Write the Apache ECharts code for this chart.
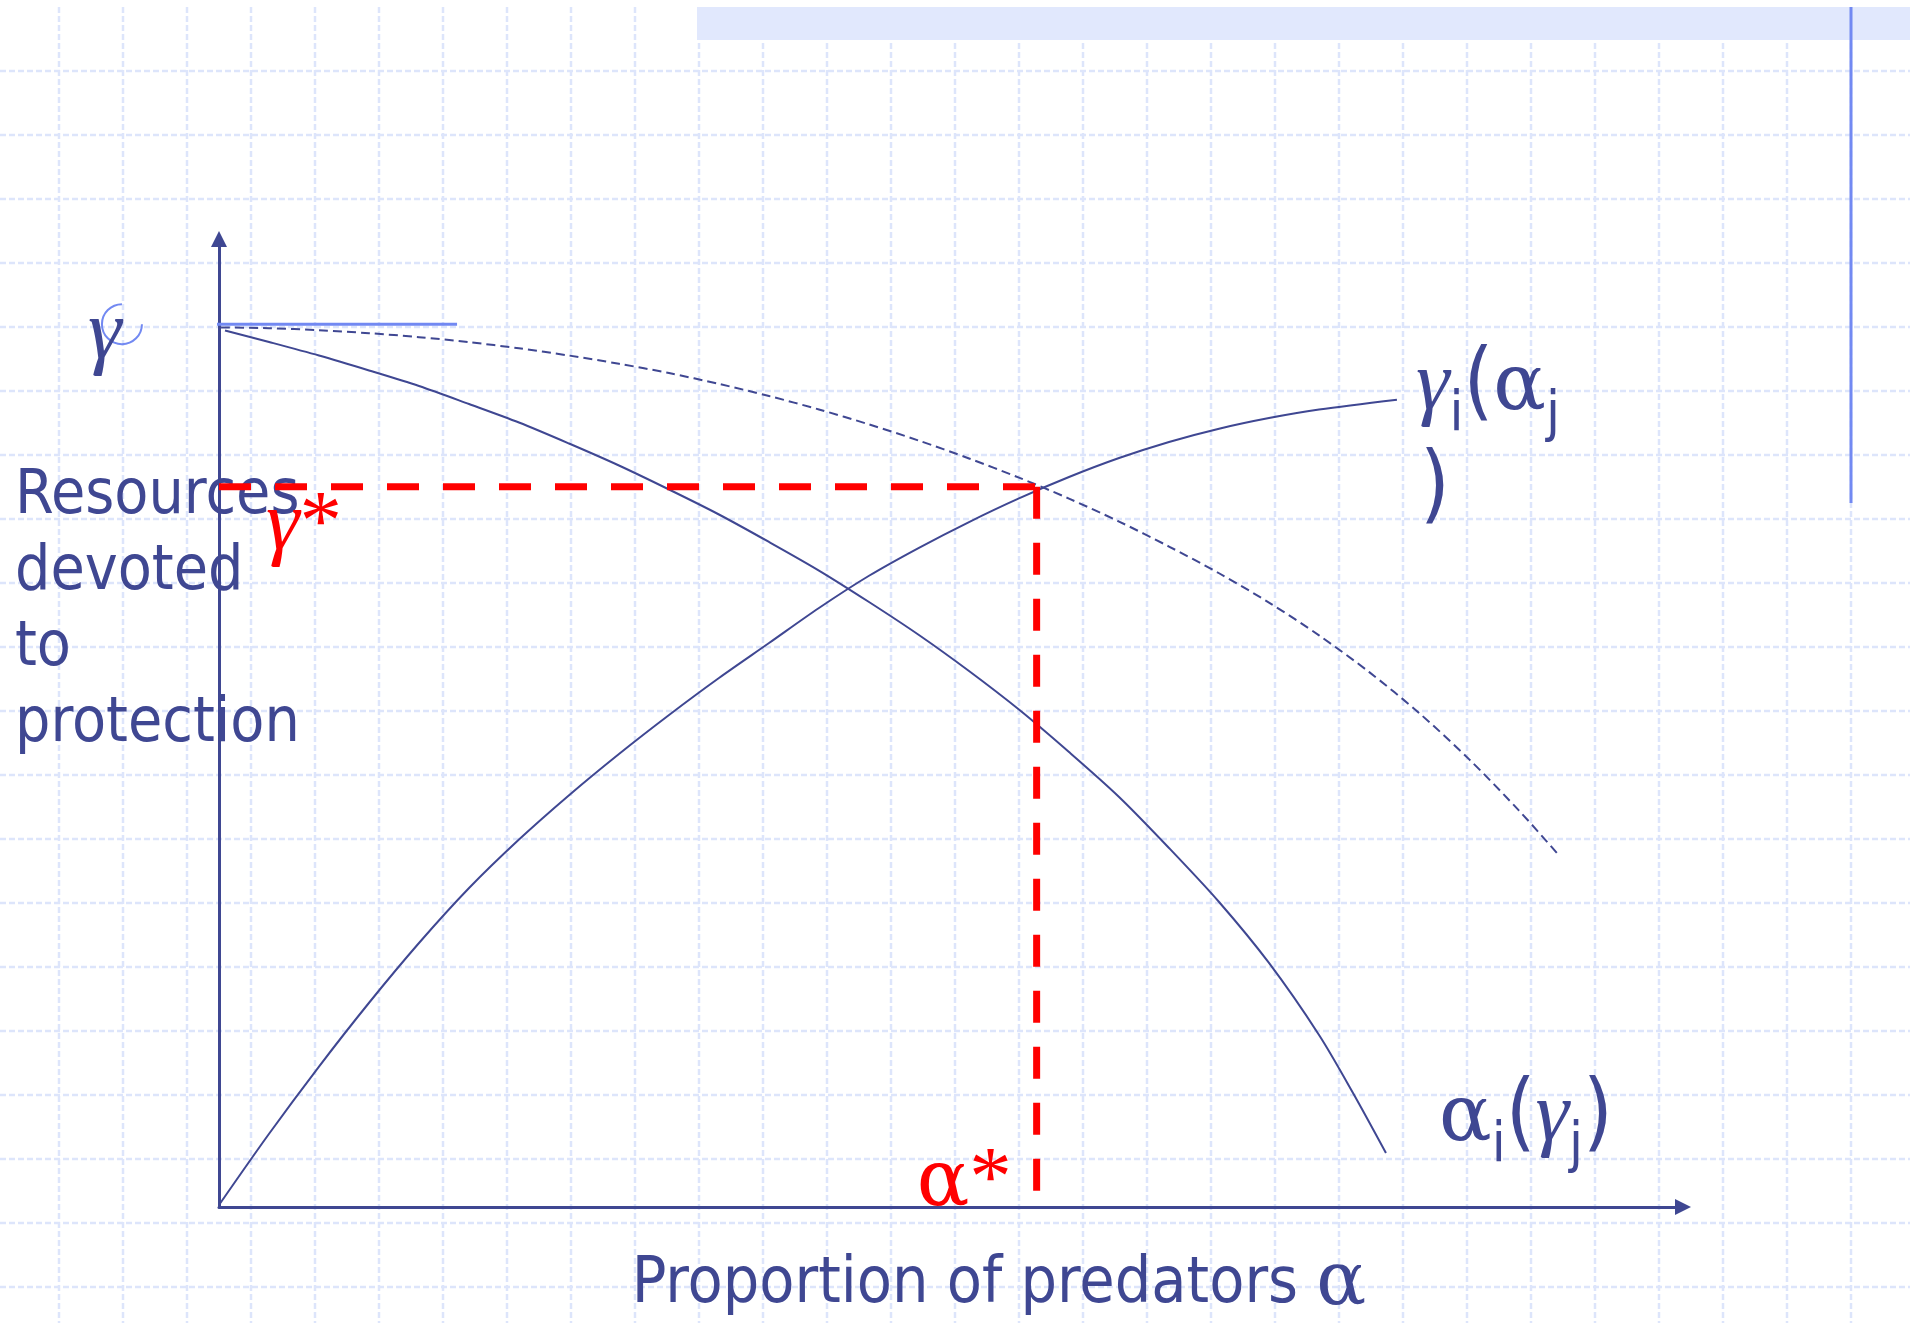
<!DOCTYPE html>
<html>
<head>
<meta charset="utf-8">
<title>Reaction curves</title>
<script src="https://cdn.jsdelivr.net/npm/echarts@6/dist/echarts.min.js"></script>
<style>
  html, body { margin: 0; padding: 0; background: #fff; }
  #main { width: 1910px; height: 1323px; }
</style>
</head>
<body>
<div id="main"></div>
<script>
// curves, x = proportion of predators, y = resources to protection (0..100)
var alphaCurve = [[0.41, 90.55], [3.42, 89.36], [6.83, 87.96], [10.25, 86.42], [13.66, 84.81],
  [17.08, 82.95], [20.49, 81.04], [23.91, 78.87], [27.32, 76.6], [30.74, 74.12], [34.15, 71.54],
  [37.57, 68.7], [40.98, 65.75], [44.4, 62.5], [47.81, 59.09], [51.23, 55.37], [54.64, 51.39],
  [58.06, 47.0], [61.48, 42.36], [64.89, 37.09], [68.31, 31.51], [71.72, 25.21], [75.14, 17.77],
  [77.46, 11.78], [79.71, 5.58]];
var gammaCurve = [[0, 0.21], [3.42, 7.57], [6.83, 14.51], [10.25, 21.1], [13.66, 27.27], [17.08, 32.95],
  [20.49, 37.96], [23.91, 42.54], [27.32, 46.8], [30.74, 50.83], [34.15, 54.65], [37.57, 58.26],
  [40.98, 61.88], [44.4, 65.21], [47.81, 68.1], [51.23, 70.76], [54.64, 73.2], [58.06, 75.41],
  [61.48, 77.37], [64.89, 79.03], [68.31, 80.4], [71.72, 81.5], [75.14, 82.38], [80.46, 83.4]];
var dashedCurve = [[0.14, 90.86], [3.42, 90.79], [6.83, 90.58], [10.25, 90.27], [13.66, 89.86],
  [17.08, 89.34], [20.49, 88.71], [23.91, 87.96], [27.32, 87.11], [30.74, 86.15], [34.15, 85.03],
  [37.57, 83.78], [40.98, 82.39], [44.4, 80.85], [47.81, 79.17], [51.23, 77.33], [54.64, 75.35],
  [58.06, 73.18], [61.48, 70.81], [64.89, 68.23], [68.31, 65.47], [71.72, 62.44], [75.14, 59.05],
  [78.55, 55.28], [81.97, 51.04], [85.38, 46.27], [88.8, 40.95], [91.39, 36.57]];

var alphaStar = 55.85;
var gammaStar = 74.4;
var dropEnd = 1.65;
var gammaBar = 91.2;
var handleX = -6.63;
var handleLine = [[-9.29, gammaBar], [16.26, gammaBar]];
var handleStem = [[handleX, 93.2], [handleX, 42.9]];

// label texts
var xTitle = 'Proportion of predators {g|α}';
var yTitle = 'Resources\ndevoted\nto\nprotection';
var gammaRunLabel = [['γ', 'ga'], ['i', 'sub'], ['(', 'sans'], ['α', 'al'], ['j', 'sub']];
var gammaRunTail = [[')', 'sans']];
var alphaRunLabel = [['α', 'al'], ['i', 'sub'], ['(', 'sans'], ['γ', 'ga'], ['j', 'sub'], [')', 'sans']];
var gammaStarLabel = [['γ', 'ga'], ['*', 'star']];
var alphaStarLabel = [['α', 'al'], ['*', 'star']];
var gammaBarLabel = [['γ', 'ga']];

var navy = '#3f4792';
var red = '#ff0000';
var handleBlue = '#7289f2';
var gridBlue = '#dde5fb';
var sansFamily = '"DejaVu Sans Condensed", "DejaVu Sans", sans-serif';
var serifFamily = '"Liberation Serif", serif';
var wideSerif = '"DejaVu Serif", serif';
var kinds = {
  ga: { size: 85, family: serifFamily, style: 'italic', dy: 0 },
  al: { size: 78, family: wideSerif, style: 'normal', dy: 0 },
  star: { size: 85, family: serifFamily, style: 'normal', dy: 0 },
  sans: { size: 85, family: sansFamily, style: 'normal', dy: 0 },
  sub: { size: 56, family: sansFamily, style: 'normal', dy: 21 }
};

var chart = echarts.init(document.getElementById('main'));

var lineSeries = function (data, style, extra) {
  return Object.assign({
    type: 'line', data: data, symbol: 'none', silent: true,
    lineStyle: style
  }, extra || {});
};

chart.setOption({
  animation: false,
  backgroundColor: '#ffffff',
  grid: { left: 219, top: 239, width: 1464, height: 968, containLabel: false, outerBoundsMode: 'none' },
  xAxis: {
    type: 'value', min: 0, max: 100,
    axisLine: { onZero: false, symbol: ['none', 'triangle'], symbolSize: [16, 16],
      lineStyle: { color: navy, width: 3 } },
    axisTick: { show: false }, axisLabel: { show: false }, splitLine: { show: false },
    name: xTitle, nameLocation: 'middle', nameGap: 41,
    nameTextStyle: {
      color: navy, fontSize: 64, fontFamily: sansFamily, padding: [0, 0, 0, 96],
      rich: { g: { color: navy, fontSize: 74, fontFamily: wideSerif } }
    }
  },
  yAxis: {
    type: 'value', min: 0, max: 100,
    axisLine: { onZero: false, symbol: ['none', 'triangle'], symbolSize: [16, 16],
      lineStyle: { color: navy, width: 3 } },
    axisTick: { show: false }, axisLabel: { show: false }, splitLine: { show: false }
  },
  series: [
    lineSeries(handleLine, { color: handleBlue, width: 3 }, { clip: false, z: 1 }),
    lineSeries(handleStem, { color: handleBlue, width: 3 }, { clip: false, z: 1 }),
    lineSeries(alphaCurve, { color: navy, width: 2 }, { smooth: 0.3 }),
    lineSeries(gammaCurve, { color: navy, width: 2 }, { smooth: 0.3 }),
    lineSeries(dashedCurve, { color: navy, width: 2, type: [9, 5] }, { smooth: 0.3 }),
    lineSeries([[0, gammaStar], [alphaStar, gammaStar]], { color: red, width: 7, type: [32, 24], cap: 'butt' }, { z: 4 }),
    lineSeries([[alphaStar, gammaStar], [alphaStar, dropEnd]], { color: red, width: 7, type: [32, 24], cap: 'butt' }, { z: 4 })
  ]
});

// text measuring for the hand-set formula labels
var mctx = document.createElement('canvas').getContext('2d');
function measure(k, text) {
  mctx.font = k.style + ' ' + k.size + 'px ' + k.family;
  mctx.textBaseline = 'alphabetic';
  var w = mctx.measureText(text).width;
  var up = mctx.measureText('x').actualBoundingBoxAscent;
  mctx.textBaseline = 'middle';
  var upMid = mctx.measureText('x').actualBoundingBoxAscent;
  mctx.textBaseline = 'alphabetic';
  return { w: w, mid: up - upMid };
}
function runText(pieces, x, baseline, color) {
  var out = [];
  pieces.forEach(function (p) {
    var k = kinds[p[1]];
    var m = measure(k, p[0]);
    out.push({
      type: 'text', z: 20, silent: true,
      style: { text: p[0], x: x, y: baseline + k.dy - m.mid, fontSize: k.size, fontFamily: k.family,
        fontStyle: k.style, fill: color, align: 'left', verticalAlign: 'middle' }
    });
    x += m.w;
  });
  return out;
}
function px(pt) { return chart.convertToPixel({ gridIndex: 0 }, pt); }

var graphics = [];
// slide background grid
for (var gx = 59; gx < 1910; gx += 64) {
  graphics.push({ type: 'line', z: -10, silent: true, shape: { x1: gx, y1: 7, x2: gx, y2: 1323 },
    style: { stroke: gridBlue, lineWidth: 2.5, lineDash: [6, 3] } });
}
for (var gy = 71; gy < 1323; gy += 64) {
  graphics.push({ type: 'line', z: -10, silent: true, shape: { x1: 0, y1: gy, x2: 1910, y2: gy },
    style: { stroke: gridBlue, lineWidth: 2.5, lineDash: [6, 3] } });
}
graphics.push({ type: 'rect', z: -9, silent: true, shape: { x: 697, y: 7, width: 1213, height: 33 },
  style: { fill: '#e1e8fd' } });
graphics.push({ type: 'line', z: -8, silent: true, shape: { x1: 1851, y1: 7, x2: 1851, y2: 503 },
  style: { stroke: handleBlue, lineWidth: 3 } });

// handle arc round the gamma-bar label
var hc = px([handleX, gammaBar]);
graphics.push({ type: 'arc', z: 3, silent: true,
  shape: { cx: hc[0], cy: hc[1], r: 20, startAngle: 0, endAngle: Math.PI * 1.5, clockwise: true },
  style: { stroke: handleBlue, lineWidth: 2, fill: null } });

// y axis title
var ym = measure({ size: 62, family: sansFamily, style: 'normal' }, 'R');
graphics.push({ type: 'text', z: 2, silent: true,
  style: { text: yTitle, x: 15, y: 513 - ym.mid - 38, fontSize: 62, fontFamily: sansFamily,
    lineHeight: 76, fill: navy, align: 'left', verticalAlign: 'top' } });

var a;
a = px([0, gammaBar]);
graphics = graphics.concat(runText(gammaBarLabel, a[0] - 131, a[1] + 34, navy));
a = px([0, gammaStar]);
graphics = graphics.concat(runText(gammaStarLabel, a[0] + 47, a[1] + 62, red));
a = px([alphaStar, 0]);
graphics = graphics.concat(runText(alphaStarLabel, a[0] - 120, a[1] - 2, red));
a = px(gammaCurve[gammaCurve.length - 1]);
graphics = graphics.concat(runText(gammaRunLabel, a[0] + 19, a[1] + 9, navy));
graphics = graphics.concat(runText(gammaRunTail, a[0] + 23, a[1] + 112, navy));
a = px(alphaCurve[alphaCurve.length - 1]);
graphics = graphics.concat(runText(alphaRunLabel, a[0] + 53, a[1] - 13, navy));

chart.setOption({ graphic: graphics });
</script>
</body>
</html>
